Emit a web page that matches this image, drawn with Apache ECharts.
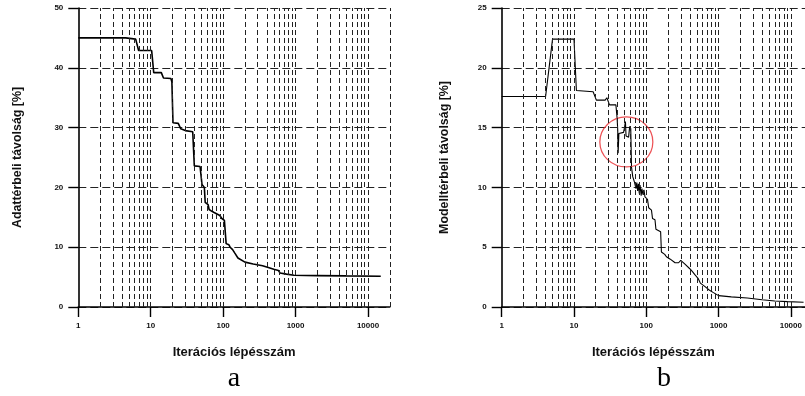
<!DOCTYPE html>
<html>
<head>
<meta charset="utf-8">
<script src="https://cdn.jsdelivr.net/npm/echarts@6/dist/echarts.min.js"></script>
<style>html,body{margin:0;padding:0;background:#fff}#c{width:805px;height:396px}</style>
</head>
<body>
<div id="c"></div>
<script>
// Panel a data
const aX = [1, 4.5, 6.2, 6.8, 10.3, 11, 14, 15, 19, 19.6, 20.3, 24, 26, 30, 38, 40, 48, 51, 55, 56.5, 62, 64, 70, 75, 90, 96, 104, 110, 120, 125, 135, 145, 160, 170, 200, 260, 350, 420, 500, 580, 610, 750, 950, 2000, 5000, 15000];
const aY = [45.0, 45.0, 44.8, 42.9, 42.9, 39.2, 39.2, 38.3, 38.2, 37.6, 30.8, 30.7, 29.8, 29.5, 29.3, 23.6, 23.5, 20.5, 20.0, 17.5, 17.1, 16.3, 16.0, 15.8, 15.3, 14.8, 14.5, 10.6, 10.4, 10.0, 9.6, 9.0, 8.2, 7.9, 7.5, 7.2, 6.9, 6.6, 6.3, 6.1, 5.7, 5.5, 5.3, 5.25, 5.2, 5.15];
// Panel b data
const bX = [1, 4.05, 5.05, 10, 10.8, 18.4, 20.4, 27, 28.5, 30, 31, 38, 39.5, 40.3, 40.8, 41.8, 48.5, 50, 51.5, 52.5, 57, 59, 61, 62.5, 65, 69, 72, 74, 76, 78, 80, 82, 85, 87, 90, 93, 96, 100, 104, 108, 118, 122, 132, 136, 158, 162, 180, 190, 200, 215, 250, 280, 300, 340, 400, 430, 470, 520, 560, 650, 750, 850, 1000, 1500, 2500, 4000, 6000, 9000, 15000];
const bY = [17.6, 17.6, 22.4, 22.4, 18.1, 18.0, 17.3, 17.3, 17.5, 17.4, 16.9, 16.9, 15.8, 14.8, 12.85, 14.5, 14.6, 15.0, 15.5, 14.3, 14.2, 15.1, 14.9, 11.7, 10.9, 10.4, 9.9, 10.4, 9.7, 10.3, 9.5, 10.2, 9.3, 9.9, 9.4, 9.8, 9.2, 9.1, 9.0, 8.3, 8.1, 7.4, 7.3, 6.5, 6.3, 4.6, 4.4, 4.2, 4.3, 4.0, 3.7, 3.7, 3.9, 3.6, 3.2, 3.0, 2.7, 2.4, 2.0, 1.7, 1.4, 1.2, 0.95, 0.85, 0.75, 0.6, 0.5, 0.45, 0.4];
// Highlight circle in panel b (data coords)
const circleX = [53];
const circleY = [13.8];
// Axes
const xMajorTicks = [1, 10, 100, 1000, 10000];
const xGridLines = [2,3,4,5,6,7,8,9,10,20,30,40,50,60,70,80,90,100,200,300,400,500,600,700,800,900,1000,2000,3000,4000,5000,6000,7000,8000,9000,10000,20000];
const xMin = 1, aXMax = 20000, bXMax = 15700;
const aYMax = 50, aYInterval = 10;
const bYMax = 25, bYInterval = 5;
const xTitle = 'Iterációs lépésszám';
const aYTitle = 'Adattérbeli távolság [%]';
const bYTitle = 'Modelltérbeli távolság [%]';
const panelLabels = ['a', 'b'];

const pairs = (xs, ys) => xs.map((x, i) => [x, ys[i]]);
const sans = 'Liberation Sans, Arial, sans-serif';
const labelStyle = {fontFamily: sans, fontSize: 8, fontWeight: 'bold', color: '#111'};
const xNameStyle = {fontFamily: sans, fontSize: 13, fontWeight: 'bold', color: '#111'};
const yNameStyle = {fontFamily: sans, fontSize: 12.4, fontWeight: 'bold', color: '#111'};

function xAxis(gi, max) {
  return {
    type: 'log', logBase: 10, gridIndex: gi, min: xMin, max: max,
    axisLine: {show: true, onZero: false, lineStyle: {color: '#000', width: 1.6}},
    axisTick: {show: true, inside: false, length: 10, customValues: xMajorTicks, lineStyle: {color: '#000', width: 1.4}},
    axisLabel: Object.assign({margin: 15, customValues: xMajorTicks, formatter: v => String(Math.round(v))}, labelStyle),
    splitLine: {show: false},
    minorTick: {show: false}, minorSplitLine: {show: false},
    name: xTitle, nameLocation: 'middle', nameGap: 39, nameTextStyle: xNameStyle
  };
}
function yAxis(gi, max, interval, title, gap) {
  return {
    type: 'value', gridIndex: gi, min: 0, max: max, interval: interval,
    axisLine: {show: true, onZero: false, lineStyle: {color: '#000', width: 1.6}},
    axisTick: {show: true, inside: false, length: 10, lineStyle: {color: '#000', width: 1.4}},
    axisLabel: Object.assign({margin: 15}, labelStyle),
    splitLine: {show: true, lineStyle: {color: '#222', width: 1, type: [8, 4]}},
    name: title, nameLocation: 'middle', nameGap: gap, nameRotate: 90, nameTextStyle: yNameStyle
  };
}
function gridLines(max) {
  return {
    silent: true, symbol: ['none', 'none'], label: {show: false},
    lineStyle: {color: '#222', width: 1, type: [5, 3]},
    data: xGridLines.filter(v => v <= max).map(v => ({xAxis: v}))
  };
}

const chart = echarts.init(document.getElementById('c'), null, {renderer: 'canvas'});
chart.setOption({
  animation: false,
  backgroundColor: '#fff',
  title: [
    {text: panelLabels[0], left: 229, top: 360, textAlign: 'center', textStyle: {fontFamily: 'Liberation Serif, Times New Roman, serif', fontSize: 28, fontWeight: 'normal', color: '#000'}},
    {text: panelLabels[1], left: 659, top: 360, textAlign: 'center', textStyle: {fontFamily: 'Liberation Serif, Times New Roman, serif', fontSize: 28, fontWeight: 'normal', color: '#000'}}
  ],
  grid: [
    {left: 78.3, top: 8, width: 311.5, height: 299},
    {left: 501.7, top: 8, width: 303.3, height: 299}
  ],
  xAxis: [xAxis(0, aXMax), xAxis(1, bXMax)],
  yAxis: [yAxis(0, aYMax, aYInterval, aYTitle, 55), yAxis(1, bYMax, bYInterval, bYTitle, 51)],
  series: [
    {type: 'line', xAxisIndex: 0, yAxisIndex: 0, data: pairs(aX, aY), showSymbol: false, symbol: 'none',
     lineStyle: {color: '#000', width: 1.6}, markLine: gridLines(aXMax), z: 3},
    {type: 'line', xAxisIndex: 1, yAxisIndex: 1, data: pairs(bX, bY), showSymbol: false, symbol: 'none',
     lineStyle: {color: '#000', width: 1.1}, markLine: gridLines(bXMax), z: 3},
    {type: 'scatter', xAxisIndex: 1, yAxisIndex: 1, data: pairs(circleX, circleY), symbol: 'circle', symbolSize: [53, 50],
     itemStyle: {color: 'rgba(0,0,0,0)', borderColor: '#e8262a', borderWidth: 1.2}, silent: true, z: 4}
  ]
});
</script>
</body>
</html>
